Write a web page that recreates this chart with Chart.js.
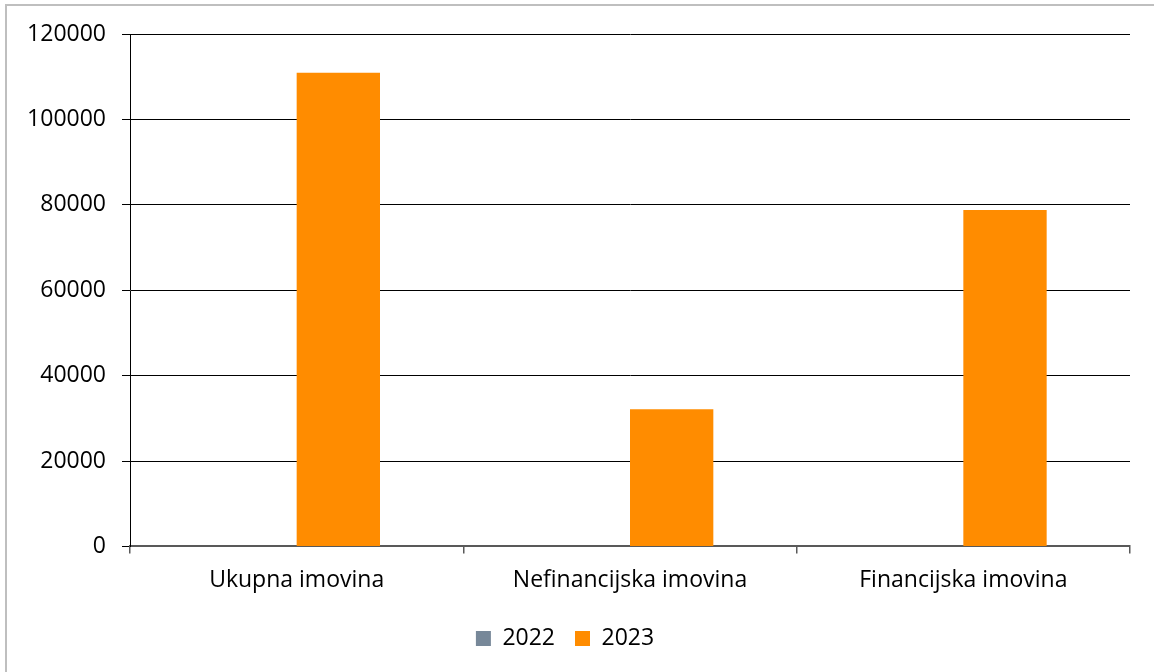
<!DOCTYPE html>
<html>
<head>
<meta charset="utf-8">
<script src="https://cdn.jsdelivr.net/npm/chart.js@4"></script>
<style>
  html, body { margin: 0; padding: 0; background: #fff; }
  #wrap { width: 1154px; height: 672px; position: relative; }
</style>
</head>
<body>
<div id="wrap"><canvas id="myChart"></canvas></div>
<script>
const categories = ['Ukupna imovina', 'Nefinancijska imovina', 'Financijska imovina'];
const values2022 = [0, 0, 0];
const values2023 = [110900, 32100, 78800];
const seriesNames = ['2022', '2023'];

// grey frame on the top and left edges, like the exported chart box
const frame = {
  id: 'frame',
  beforeDraw(chart) {
    const c = chart.ctx;
    c.save();
    c.strokeStyle = '#bfbfbf';
    c.lineWidth = 2;
    c.beginPath();
    c.moveTo(6, 672);
    c.lineTo(6, 5);
    c.lineTo(1154, 5);
    c.stroke();
    c.restore();
  }
};

const font = { family: "'Open Sans', sans-serif", size: 23 };

new Chart(document.getElementById('myChart'), {
  type: 'bar',
  data: {
    labels: categories,
    datasets: [{
      label: seriesNames[0],
      data: values2022,
      backgroundColor: '#778899'
    }, {
      label: seriesNames[1],
      data: values2023,
      backgroundColor: '#ff8c00'
    }]
  },
  options: {
    responsive: true,
    maintainAspectRatio: false,
    animation: false,
    layout: { padding: { top: 34, right: 24, left: 0, bottom: 12 } },
    datasets: { bar: { categoryPercentage: 0.5, barPercentage: 1 } },
    plugins: {
      tooltip: { enabled: false },
      legend: {
        position: 'bottom',
        labels: { font: font, color: '#000', boxWidth: 15, boxHeight: 15, padding: 20 }
      }
    },
    scales: {
      x: {
        grid: { drawOnChartArea: false, offset: true, tickLength: 7, color: '#595959', lineWidth: 1.5 },
        border: { color: '#595959', width: 2 },
        ticks: { font: font, color: '#000', padding: 13 }
      },
      y: {
        min: 0,
        max: 120000,
        afterFit(scale) { scale.width = 130; },
        grid: { color: '#000', lineWidth: 1, tickLength: 8 },
        border: { color: '#000', width: 1 },
        ticks: { stepSize: 20000, font: font, color: '#000', padding: 16, callback: v => String(v) }
      }
    }
  },
  plugins: [frame]
});
</script>
</body>
</html>
